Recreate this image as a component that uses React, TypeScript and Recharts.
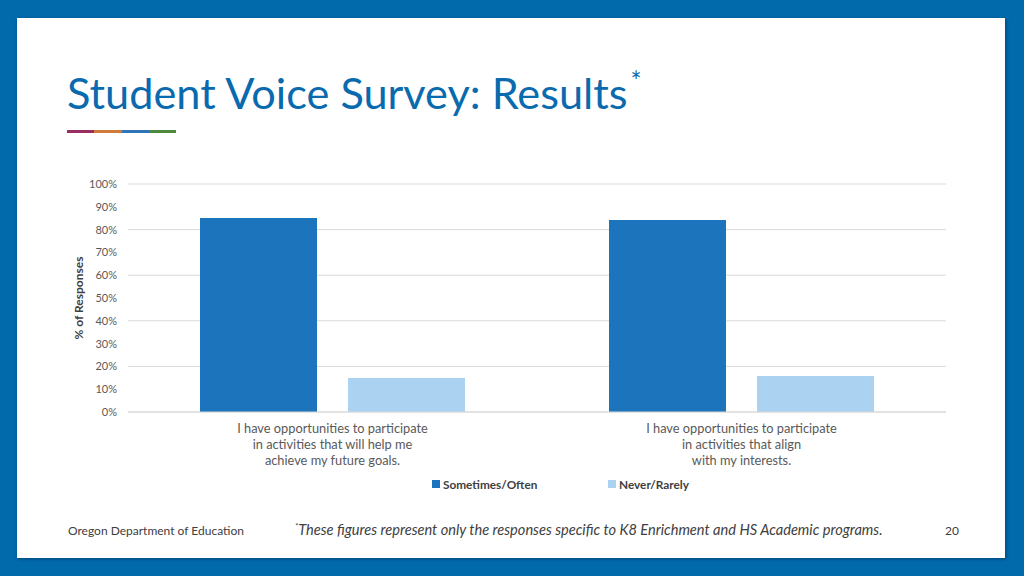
import React from "react"
import { BarChart, Bar, XAxis, YAxis, CartesianGrid, Legend } from "recharts"

const categories = [
  "I have opportunities to participate\nin activities that will help me\nachieve my future goals.",
  "I have opportunities to participate\nin activities that align\nwith my interests.",
]
const seriesNames = ["Sometimes/Often", "Never/Rarely"]
const sometimesOften = [85.1, 84.2]
const neverRarely = [14.9, 15.8]
const yTicks = [0, 10, 20, 30, 40, 50, 60, 70, 80, 90, 100]

const FONT = "Lato, 'Open Sans', sans-serif"
const DARK = "#1C75BC"
const LIGHT = "#ABD2F1"

const data = categories.map((name, i) => ({
  name,
  sometimes: sometimesOften[i],
  never: neverRarely[i],
}))

function CategoryTick({ x, y, payload }: any) {
  const lines = String(payload.value).split("\n")
  return (
    <text x={x} y={y} textAnchor="middle" fill="#595959" fontSize={12.8} fontFamily={FONT}>
      {lines.map((line, i) => (
        <tspan key={i} x={x} dy={i === 0 ? 13 : 16}>
          {line}
        </tspan>
      ))}
    </text>
  )
}

function LegendContent({ payload }: any) {
  const lefts = [432, 608]
  const items = seriesNames.map((n) => (payload || []).find((p: any) => p.value === n)).filter(Boolean)
  return (
    <div style={{ position: "relative", height: 16, width: 1024 }}>
      {items.map((p: any, i: number) => (
        <div
          key={p.value}
          style={{
            position: "absolute",
            left: lefts[i],
            top: 0,
            height: 16,
            display: "flex",
            alignItems: "center",
            fontFamily: FONT,
            fontSize: 11.8,
            fontWeight: 700,
            color: "#404040",
            whiteSpace: "nowrap",
          }}
        >
          <span style={{ width: 8, height: 8, background: p.color, marginRight: 3, display: "inline-block" }} />
          {p.value}
        </div>
      ))}
    </div>
  )
}

function YLabel({ viewBox }: any) {
  const cx = 78
  const cy = viewBox.y + viewBox.height / 2
  return (
    <text
      x={cx}
      y={cy}
      transform={`rotate(-90, ${cx}, ${cy})`}
      textAnchor="middle"
      dominantBaseline="central"
      fill="#404040"
      fontSize={12}
      fontWeight={700}
      fontFamily={FONT}
    >
      % of Responses
    </text>
  )
}

export default function App() {
  return (
    <div
      style={{
        position: "fixed",
        left: 0,
        top: 0,
        width: 1024,
        height: 576,
        background: "#006AAB",
        overflow: "hidden",
      }}
    >
      <div
        style={{
          position: "absolute",
          left: 17,
          top: 18,
          width: 988,
          height: 540,
          background: "#FFFFFF",
          boxShadow: "1px 1px 3px rgba(0,0,0,0.35)",
        }}
      />
      <div
        style={{
          position: "absolute",
          left: 67,
          top: 64,
          fontFamily: FONT,
          fontSize: 43.3,
          color: "#0A6AAE",
          whiteSpace: "nowrap",
          lineHeight: "56px",
        }}
      >
        Student Voice Survey: Results
        <span style={{ fontSize: 26, position: "relative", top: -18, marginLeft: 3 }}>*</span>
      </div>
      <div style={{ position: "absolute", left: 67, top: 130, display: "flex", height: 3 }}>
        <div style={{ width: 27, background: "#9B2D63" }} />
        <div style={{ width: 28, background: "#D27A3A" }} />
        <div style={{ width: 27, background: "#2F74B5" }} />
        <div style={{ width: 27, background: "#4E8A3E" }} />
      </div>

      <div style={{ position: "absolute", left: 0, top: 150 }}>
        <BarChart
          width={1024}
          height={350}
          data={data}
          margin={{ top: 34, right: 78, left: 68, bottom: 8 }}
          barGap={31}
        >
          <CartesianGrid vertical={false} stroke="#D9D9D9" />
          <XAxis
            dataKey="name"
            axisLine={{ stroke: "#D9D9D9" }}
            tickLine={false}
            tick={<CategoryTick />}
            height={64}
            interval={0}
          />
          <YAxis
            domain={[0, 100]}
            ticks={yTicks}
            width={60}
            axisLine={false}
            tickLine={false}
            tickMargin={5}
            tickFormatter={(v: number) => `${v}%`}
            tick={{ fill: "#595959", fontSize: 11, fontFamily: FONT }}
            label={<YLabel />}
          />
          <Legend verticalAlign="bottom" content={<LegendContent />} wrapperStyle={{ left: 0, width: 1024 }} />
          <Bar dataKey="sometimes" name={seriesNames[0]} fill={DARK} barSize={117} isAnimationActive={false} />
          <Bar dataKey="never" name={seriesNames[1]} fill={LIGHT} barSize={117} isAnimationActive={false} />
        </BarChart>
      </div>

      <div
        style={{
          position: "absolute",
          left: 68,
          top: 523,
          fontFamily: FONT,
          fontSize: 12,
          color: "#404040",
          whiteSpace: "nowrap",
        }}
      >
        Oregon Department of Education
      </div>
      <div
        style={{
          position: "absolute",
          left: 295,
          top: 521,
          fontFamily: FONT,
          fontSize: 14.6,
          fontStyle: "italic",
          color: "#404040",
          whiteSpace: "nowrap",
        }}
      >
        <span style={{ fontSize: 8, verticalAlign: "super" }}>*</span>
        These figures represent only the responses specific to K8 Enrichment and HS Academic programs.
      </div>
      <div
        style={{
          position: "absolute",
          left: 945,
          top: 523,
          fontFamily: FONT,
          fontSize: 12,
          color: "#404040",
        }}
      >
        20
      </div>
    </div>
  )
}
